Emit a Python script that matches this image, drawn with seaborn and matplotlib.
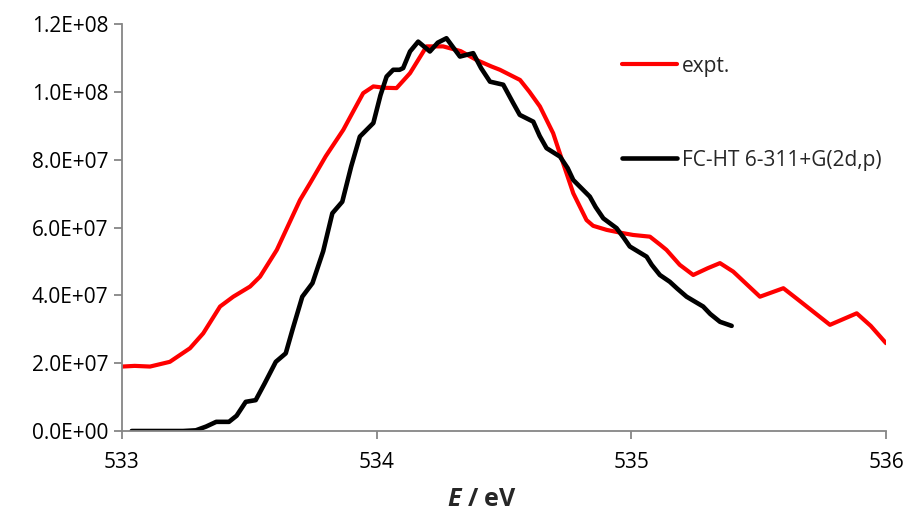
import numpy as np
import pandas as pd
import seaborn as sns
import matplotlib.pyplot as plt
from matplotlib.ticker import FuncFormatter

# experimental spectrum (values in 1e7)
expt_E = [533.0, 533.05, 533.11, 533.188, 533.267, 533.319, 533.385, 533.437, 533.503, 533.542,
          533.608, 533.699, 533.738, 533.80, 533.869, 533.91, 533.947, 533.987, 534.03,
          534.078, 534.131, 534.196, 534.261, 534.33, 534.392, 534.45, 534.484, 534.563, 534.60,
          534.641, 534.693, 534.732, 534.772, 534.824, 534.85, 534.903, 534.955, 535.007, 535.073,
          535.112, 535.138, 535.19, 535.243, 535.30, 535.348, 535.40, 535.505, 535.597, 535.65,
          535.78, 535.885, 535.94, 536.0]
expt_I = [1.90, 1.92, 1.90, 2.04, 2.44, 2.88, 3.67, 3.96, 4.26, 4.55,
          5.34, 6.81, 7.30, 8.1, 8.88, 9.45, 9.96, 10.16, 10.12,
          10.11, 10.55, 11.34, 11.34, 11.2, 10.94, 10.75, 10.65, 10.35, 10.0,
          9.57, 8.78, 7.9, 7.01, 6.22, 6.05, 5.93, 5.85, 5.78, 5.73,
          5.5, 5.34, 4.9, 4.6, 4.8, 4.95, 4.7, 3.96, 4.21, 3.9,
          3.13, 3.47, 3.1, 2.59]

# FC-HT 6-311+G(2d,p) calculation (values in 1e7)
calc_E = [533.038, 533.24, 533.29, 533.33, 533.37, 533.42, 533.45, 533.486, 533.525, 533.56,
          533.604, 533.643, 533.67, 533.708, 533.748, 533.79, 533.826, 533.865, 533.90, 533.934,
          533.987, 534.015, 534.039, 534.065, 534.09, 534.104, 534.131, 534.163, 534.209, 534.24,
          534.274, 534.327, 534.379, 534.41, 534.445, 534.497, 534.536, 534.562, 534.615, 534.64,
          534.667, 534.72, 534.75, 534.772, 534.837, 534.86, 534.89, 534.942, 534.97, 534.994,
          535.06, 535.08, 535.112, 535.151, 535.18, 535.217, 535.282, 535.31, 535.348, 535.394]
calc_I = [0, 0, 0.02, 0.13, 0.27, 0.27, 0.45, 0.86, 0.91, 1.4,
          2.04, 2.29, 3.0, 3.96, 4.36, 5.3, 6.42, 6.76, 7.8, 8.68,
          9.08, 9.9, 10.45, 10.65, 10.65, 10.7, 11.19, 11.48, 11.19, 11.45,
          11.58, 11.04, 11.14, 10.7, 10.3, 10.21, 9.67, 9.32, 9.12, 8.7,
          8.34, 8.09, 7.75, 7.4, 6.91, 6.6, 6.27, 5.98, 5.7, 5.44,
          5.14, 4.9, 4.6, 4.4, 4.2, 3.96, 3.67, 3.45, 3.22, 3.1]

expt = pd.DataFrame({'E': expt_E, 'I': np.array(expt_I) * 1e7})
calc = pd.DataFrame({'E': calc_E, 'I': np.array(calc_I) * 1e7})

sns.set_style('white')
plt.rcParams['font.family'] = ['Open Sans', 'DejaVu Sans']
plt.rcParams['mathtext.fontset'] = 'custom'
plt.rcParams['mathtext.rm'] = 'Open Sans'
plt.rcParams['mathtext.bfit'] = 'Open Sans:italic:bold'

fig = plt.figure(figsize=(9.09, 5.15), dpi=100)
ax = fig.add_axes([0.1342, 0.1631, 0.8405, 0.7903])

sns.lineplot(data=expt, x='E', y='I', color='#ff0000', lw=3, label='expt.', ax=ax,
             solid_joinstyle='round', solid_capstyle='round')
sns.lineplot(data=calc, x='E', y='I', color='black', lw=3.3, label='FC-HT 6-311+G(2d,p)', ax=ax,
             solid_joinstyle='round', solid_capstyle='round')

ax.set_xlim(533, 536)
ax.set_ylim(0, 1.2e8)
ax.set_xticks([533, 534, 535, 536])
ax.set_yticks(np.arange(0, 1.21e8, 2e7))
ax.yaxis.set_major_formatter(FuncFormatter(lambda v, p: f'{v:.1E}'))

for s in ['top', 'right']:
    ax.spines[s].set_visible(False)
for s in ['left', 'bottom']:
    ax.spines[s].set_color('#868686')
    ax.spines[s].set_linewidth(1.3)
ax.tick_params(axis='both', colors='#868686', labelcolor='black', labelsize=15,
               length=6, width=1.3, direction='out', left=True, bottom=True)
ax.tick_params(axis='x', pad=9)
ax.tick_params(axis='y', pad=4)

ax.set_xlabel(r'$\mathbfit{E}$ / eV', fontsize=18, fontweight='bold')
ax.xaxis.set_label_coords(0.471, -0.138)
ax.set_ylabel('')

ax.legend(loc='upper left', bbox_to_anchor=(0.655, 0.922), frameon=False, fontsize=15,
          handlelength=2.6, handletextpad=0.25, labelspacing=3.5, borderpad=0, borderaxespad=0)

plt.savefig('out.png', dpi=100)
